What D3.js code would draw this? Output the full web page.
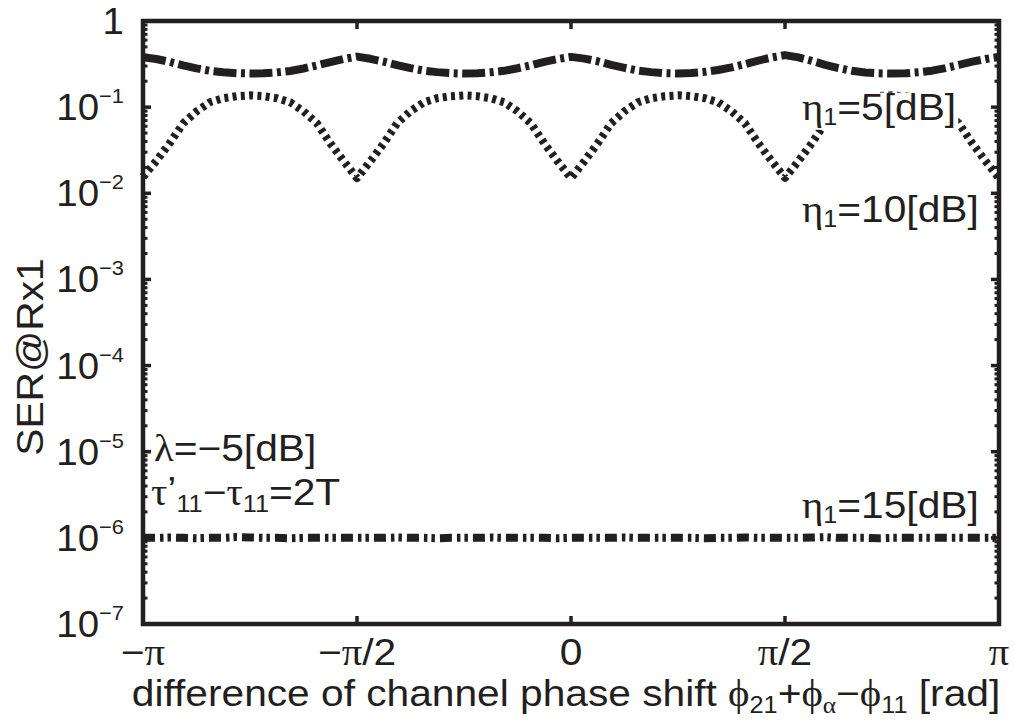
<!DOCTYPE html>
<html>
<head>
<meta charset="utf-8">
<script src="https://cdn.jsdelivr.net/npm/d3@7"></script>
<style>
  html, body { margin: 0; padding: 0; background: #fff; }
  svg { display: block; }
  text { font-family: "Liberation Sans", Arial, Helvetica, sans-serif; fill: #231f20; }
  .gk { font-family: "Liberation Serif", "Times New Roman", serif; }
</style>
</head>
<body>
<svg id="chart" width="1014" height="728"></svg>
<script>
// ---- data ----------------------------------------------------------------
const phaseTicks = [-Math.PI, -Math.PI / 2, 0, Math.PI / 2, Math.PI];
const phaseTickLabels = [["−", "π"], ["−", "π", "/2"], ["0"], ["π", "/2"], ["π"]];
const serDecades = [1, 1e-1, 1e-2, 1e-3, 1e-4, 1e-5, 1e-6, 1e-7];
const serDecadeExponents = [null, "−1", "−2", "−3", "−4", "−5", "−6", "−7"];

// phase sample points, steps of pi/32 from -pi to pi
const phaseGrid = d3.range(-32, 33).map(k => k * Math.PI / 32);

// SER at Rx1, eta1 = 5 dB
const ser5dB = [
  0.380, 0.362, 0.335, 0.305, 0.282, 0.264, 0.254, 0.248, 0.246, 0.247, 0.253, 0.263, 0.281, 0.305, 0.334, 0.363,
  0.386, 0.364, 0.337, 0.307, 0.284, 0.265, 0.255, 0.248, 0.245, 0.247, 0.254, 0.264, 0.283, 0.306, 0.336, 0.362,
  0.383, 0.366, 0.340, 0.310, 0.286, 0.266, 0.255, 0.248, 0.246, 0.249, 0.257, 0.270, 0.290, 0.316, 0.347, 0.377,
  0.402, 0.378, 0.345, 0.310, 0.284, 0.264, 0.253, 0.247, 0.245, 0.247, 0.254, 0.265, 0.284, 0.309, 0.337, 0.362,
  0.382
];

// SER at Rx1, eta1 = 10 dB
const ser10dB = [
  0.0155, 0.0238, 0.0382, 0.0648, 0.0893, 0.114, 0.127, 0.134, 0.137, 0.134, 0.127, 0.114, 0.0896, 0.0650, 0.0381, 0.0236,
  0.0150, 0.0236, 0.0380, 0.0651, 0.0897, 0.114, 0.127, 0.134, 0.137, 0.134, 0.127, 0.114, 0.0895, 0.0649, 0.0380, 0.0235,
  0.0150, 0.0235, 0.0381, 0.0650, 0.0896, 0.114, 0.127, 0.134, 0.137, 0.134, 0.127, 0.114, 0.0896, 0.0650, 0.0382, 0.0237,
  0.0151, 0.0236, 0.0381, 0.0649, 0.0895, 0.114, 0.127, 0.134, 0.137, 0.134, 0.127, 0.114, 0.0895, 0.0648, 0.0380, 0.0236,
  0.0150
];

// SER at Rx1, eta1 = 15 dB
const ser15dB = [
  1.00e-6, 1.00e-6, 1.01e-6, 1.00e-6, 0.99e-6, 1.00e-6, 1.00e-6, 1.02e-6, 1.01e-6, 1.00e-6, 1.00e-6, 0.99e-6, 1.00e-6, 1.00e-6, 1.00e-6, 1.00e-6,
  1.00e-6, 1.00e-6, 1.00e-6, 1.01e-6, 1.00e-6, 1.00e-6, 0.99e-6, 1.00e-6, 1.00e-6, 1.00e-6, 1.01e-6, 1.00e-6, 1.00e-6, 1.00e-6, 1.00e-6, 0.99e-6,
  1.00e-6, 1.00e-6, 1.00e-6, 1.00e-6, 1.01e-6, 1.00e-6, 1.00e-6, 1.00e-6, 1.00e-6, 1.00e-6, 0.99e-6, 1.00e-6, 1.00e-6, 1.01e-6, 1.00e-6, 1.00e-6,
  1.00e-6, 1.00e-6, 1.01e-6, 1.02e-6, 1.00e-6, 1.00e-6, 1.00e-6, 0.99e-6, 1.00e-6, 1.00e-6, 1.00e-6, 1.00e-6, 1.00e-6, 1.00e-6, 1.00e-6, 1.00e-6,
  1.00e-6
];

// ---- layout ----------------------------------------------------------------
const W = 1014, H = 728;
const margin = { left: 143, right: 15, top: 21, bottom: 104 };
const ink = "#231f20";
const FS = 37, FS_SMALL = 23, STRETCH = 1.1;

const svg = d3.select("#chart");

const x = d3.scaleLinear().domain([-Math.PI, Math.PI]).range([margin.left, W - margin.right]);
const y = d3.scaleLog().domain([1e-7, 1]).range([H - margin.bottom, margin.top]);

const [x0, x1] = x.range();
const [yb, yt] = y.range();

// curves
const line = d3.line()
  .x(d => x(d[0]))
  .y(d => y(d[1]))
  .curve(d3.curveLinear);

const series = [
  { values: ser5dB,  dash: "23,4.5,4,4.5",     width: 8 },
  { values: ser10dB, dash: "4,4.3",            width: 8 },
  { values: ser15dB, dash: "12,5,3.5,4,3.5,5", width: 8 }
];

const plot = svg.append("g");
plot.selectAll("path.series")
  .data(series)
  .join("path")
  .attr("class", "series")
  .attr("fill", "none")
  .attr("stroke", ink)
  .attr("stroke-width", d => d.width)
  .attr("stroke-dasharray", d => d.dash)
  .attr("stroke-linecap", "butt")
  .attr("stroke-linejoin", "round")
  .attr("d", d => line(phaseGrid.map((p, i) => [p, d.values[i]])));

// ---- text helpers ------------------------------------------------------------
// parts: text or [text, {cls, size, dy, dx}]
function richText(parent, px, py, parts, anchor, rotate, stretch) {
  const g = parent.append("g")
    .attr("transform", `translate(${px},${py})` + (rotate ? ` rotate(${rotate})` : "") + ` scale(${stretch || STRETCH},1)`);
  const t = g.append("text")
    .attr("text-anchor", anchor || "start")
    .attr("font-size", FS);
  parts.forEach(p => {
    const [str, o] = Array.isArray(p) ? p : [p, {}];
    const ts = t.append("tspan").text(str);
    if (o.cls) ts.attr("class", o.cls);
    if (o.size) ts.attr("font-size", o.size);
    if (o.dy) ts.attr("dy", o.dy);
    if (o.dx) ts.attr("dx", o.dx);
  });
  return g;
}

const labels = svg.append("g");

// curve annotations (the 5 dB one sits on a white patch over the dotted curve)
function etaLabel(px, py, val, opaque) {
  const g = richText(labels, px, py, [
    ["η", { cls: "gk" }], ["1", { size: FS_SMALL, dy: 5 }],
    [`=${val}[dB]`, { dy: -5 }]
  ], "start");
  if (opaque) {
    const bb = g.node().getBBox();
    g.insert("rect", "text")
      .attr("x", bb.x - 2).attr("y", bb.y + 6)
      .attr("width", bb.width + 4).attr("height", bb.height - 6)
      .attr("fill", "#fff");
  }
}
etaLabel(802, 120, "5", true);
etaLabel(802, 222, "10");
etaLabel(802, 518, "15");

richText(labels, 154, 461, [["λ", { cls: "gk" }], "=−5[dB]"], "start");
richText(labels, 151, 505, [
  ["τ", { cls: "gk" }], ["’", { dy: -2 }],
  ["11", { size: FS_SMALL, dy: 9 }],
  ["−", { dy: -7 }],
  ["τ", { cls: "gk" }], ["11", { size: FS_SMALL, dy: 7 }],
  ["=2T", { dy: -7 }]
], "start");

// ticks (inward) on all four sides
const axesG = svg.append("g").attr("stroke", ink);
const MAJ = 8, MIN = 4.5;

const minorVals = [];
serDecades.slice(1).forEach(dec => {
  for (let k = 2; k <= 9; k++) minorVals.push(k * dec);
});

axesG.selectAll("line.ymaj")
  .data(serDecades.flatMap(v => [[v, x0, x0 + MAJ], [v, x1, x1 - MAJ]]))
  .join("line")
  .attr("x1", d => d[1]).attr("x2", d => d[2])
  .attr("y1", d => y(d[0])).attr("y2", d => y(d[0]))
  .attr("stroke-width", 3.5);

axesG.selectAll("line.ymin")
  .data(minorVals.flatMap(v => [[v, x0, x0 + MIN], [v, x1, x1 - MIN]]))
  .join("line")
  .attr("x1", d => d[1]).attr("x2", d => d[2])
  .attr("y1", d => y(d[0])).attr("y2", d => y(d[0]))
  .attr("stroke-width", 3);

axesG.selectAll("line.xmaj")
  .data(phaseTicks.flatMap(v => [[v, yb, yb - MAJ], [v, yt, yt + MAJ]]))
  .join("line")
  .attr("x1", d => x(d[0])).attr("x2", d => x(d[0]))
  .attr("y1", d => d[1]).attr("y2", d => d[2])
  .attr("stroke-width", 3.5);

// frame
svg.append("rect")
  .attr("x", x0).attr("y", yt)
  .attr("width", x1 - x0).attr("height", yb - yt)
  .attr("fill", "none")
  .attr("stroke", ink)
  .attr("stroke-width", 4.5);

// y tick labels
serDecades.forEach((v, i) => {
  const parts = serDecadeExponents[i]
    ? ["10", [serDecadeExponents[i], { size: 21, dy: -17 }]]
    : ["1"];
  richText(labels, 124, y(v) + 13, parts, "end", 0, 1.04);
});

// x tick labels
phaseTicks.forEach((v, i) => {
  const parts = phaseTickLabels[i].map(s => s === "π" ? [s, { cls: "gk" }] : s);
  richText(labels, x(v), 665, parts, "middle");
});

// axis titles
richText(labels, 566, 706, [
  "difference of channel phase shift ",
  ["ϕ", { cls: "gk" }], ["21", { size: FS_SMALL, dy: 7 }],
  ["+", { dy: -7 }],
  ["ϕ", { cls: "gk" }], ["α", { cls: "gk", size: FS_SMALL, dy: 7 }],
  ["−", { dy: -7 }],
  ["ϕ", { cls: "gk" }], ["11", { size: FS_SMALL, dy: 7 }],
  [" [rad]", { dy: -7 }]
], "middle");

richText(labels, 43, 357, ["SER@Rx1"], "middle", -90);
</script>
</body>
</html>
